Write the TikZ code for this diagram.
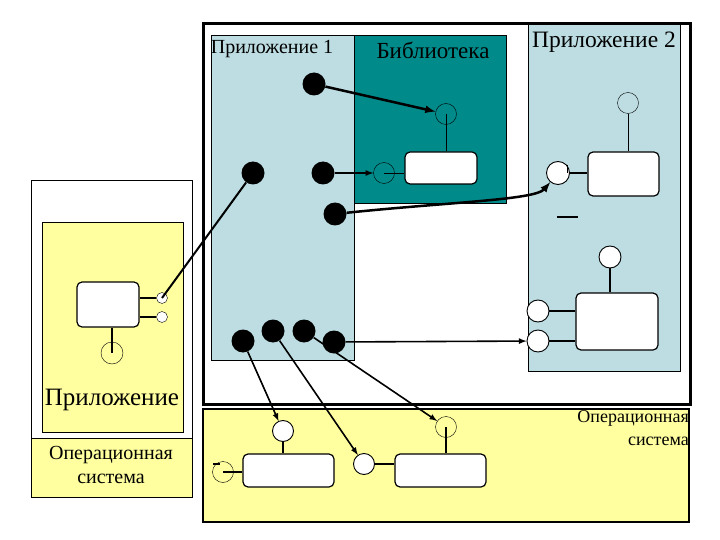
\documentclass[tikz,border=0pt]{standalone}
\usepackage{fontspec}
\setmainfont{Liberation Serif}
\usepackage{tikz}
\usepackage{xcolor}
\definecolor{appblue}{RGB}{189,221,226}
\definecolor{libteal}{RGB}{0,138,138}
\definecolor{osyellow}{RGB}{255,255,160}
\begin{document}
\begin{tikzpicture}[x=1pt,y=-1pt,>=latex,
  dot/.style={circle,fill=black,inner sep=0pt,minimum size=23pt},
  port/.style={circle,draw,inner sep=0pt,minimum size=21pt},
  wport/.style={port,fill=white,line width=0.9pt},
  pin/.style={circle,draw,fill=white,inner sep=0pt,minimum size=11pt},
  comp/.style={draw,fill=white,rounded corners=5pt,line width=1.2pt,inner sep=0pt},
  link/.style={->,line width=1.6pt},
  boldlink/.style={->,line width=2.5pt}]
  \useasboundingbox (0,0) rectangle (720,540);
  % left: application over OS
  \draw[line width=0.8pt] (31,180) rectangle (192,497);
  \draw[fill=osyellow,line width=0.8pt] (42,222) rectangle (183,432);
  \draw[fill=osyellow,line width=0.8pt] (31,438) rectangle (192,497);
  \node[font=\fontsize{25}{29}\selectfont] (lapp) at (112,400) {Приложение};
  \node[font=\fontsize{20}{24}\selectfont,align=center] (los) at (111,465) {Операционная\\система};
  \node[comp,minimum width=62pt,minimum height=45pt] (lbox) at (108,304.5) {};
  \node[pin] (lpin1) at (162,298) {};
  \node[pin] (lpin2) at (162,317) {};
  \node[port,minimum size=22pt] (lbot) at (112,353) {};
  \draw[line width=1.2pt] (lpin1.west) -- (lpin1 -| lbox.east);
  \draw[line width=1.2pt] (lpin2.west) -- (lpin2 -| lbox.east);
  \draw[line width=1.2pt] (lbot.center) -- (lbot |- lbox.south);
  % right: processes
  \draw[fill=white,line width=3pt] (203,24) rectangle (690,404);
  \draw[fill=appblue,line width=0.6pt] (211,35) rectangle (354,360);
  \draw[fill=libteal,line width=0.6pt] (354,35) rectangle (506,203);
  \draw[fill=appblue,line width=0.6pt] (528,24) rectangle (680,371);
  \node[font=\fontsize{20}{23}\selectfont] (app1) at (272,49) {Приложение 1};
  \node[font=\fontsize{23}{26}\selectfont] (libl) at (433,50) {Библиотека};
  \node[font=\fontsize{23.5}{26}\selectfont] (app2) at (604,42) {Приложение 2};
  % library
  \node[comp,minimum width=72pt,minimum height=32pt] (lib) at (441,168) {};
  \node[port] (libtop) at (446,114) {};
  \node[port] (libleft) at (384,173) {};
  \draw (libtop.center) -- (libtop |- lib.north);
  \draw (libleft.center) -- (libleft -| lib.west);
  % application 2
  \node[comp,minimum width=71pt,minimum height=44pt] (pbox) at (623.5,174) {};
  \node[port] (ptop) at (628,103) {};
  \node[wport,minimum size=23pt] (pleft) at (558,173) {};
  \draw (ptop.south) -- (ptop |- pbox.north);
  \draw[line width=1.2pt] (pleft.east) -- (pleft -| pbox.west);
  \draw ([xshift=1pt]pleft.north east) -- ++(0,8);
  \draw[line width=1.3pt] (557,217) -- (578,217);
  \node[comp,minimum width=82pt,minimum height=57pt] (qbox) at (617,321.5) {};
  \node[wport,minimum size=22pt] (qtop) at (610,257) {};
  \node[wport,minimum size=22pt] (qp1) at (538,311) {};
  \node[wport,minimum size=22pt] (qp2) at (538,341) {};
  \draw[line width=1.2pt] (qtop.south) -- (qtop |- qbox.north);
  \draw[line width=1.2pt] (qp1.east) -- (qp1 -| qbox.west);
  \draw[line width=1.2pt] (qp2.east) -- (qp2 -| qbox.west);
  % operating system
  \draw[fill=osyellow,line width=1.2pt] (203,409) rectangle (689,522);
  \node[font=\fontsize{18}{23}\selectfont,align=right,anchor=north east,inner sep=0pt] (osl) at (689,410) {Операционная\\система};
  \node[comp,minimum width=91pt,minimum height=33pt] (osa) at (288.5,470.5) {};
  \node[comp,minimum width=91pt,minimum height=33pt] (osb) at (440.5,470.5) {};
  \node[wport] (osatop) at (283,431) {};
  \node[port] (osaleft) at (223,472) {};
  \node[wport] (osbleft) at (364,464) {};
  \node[port] (osctop) at (446,427) {};
  \draw[line width=1.2pt] (osatop.south) -- (osatop |- osa.north);
  \draw[line width=1.2pt] (osaleft.center) -- (osaleft -| osa.west);
  \draw[line width=1.2pt] (213,464) -- (220,464);
  \draw[line width=1.2pt] (osbleft.east) -- (osbleft -| osb.west);
  \draw[line width=1.2pt] (osctop.center) -- (osctop |- osb.north);
  % application 1 calls
  \node[dot] (d1) at (314,84) {};
  \node[dot] (d2) at (253,173) {};
  \node[dot] (d3) at (323,173) {};
  \node[dot] (d4) at (335,214) {};
  \node[dot] (d5) at (243,341) {};
  \node[dot] (d6) at (273,331) {};
  \node[dot] (d7) at (304,331) {};
  \node[dot] (d8) at (334,342) {};
  \draw[boldlink] (d1) -- (libtop);
  \draw[link] (d3) -- (libleft);
  \draw[line width=2pt] (d2) -- (lpin1.center);
  \draw[boldlink] (d4) .. controls (450,202) and (535,200) .. (pleft);
  \draw[link] (d8) -- (qp2);
  \draw[link] (d5) -- (osatop);
  \draw[link] (d6) -- (osbleft);
  \draw[link] (d7) -- (osctop);
\end{tikzpicture}
\end{document}
